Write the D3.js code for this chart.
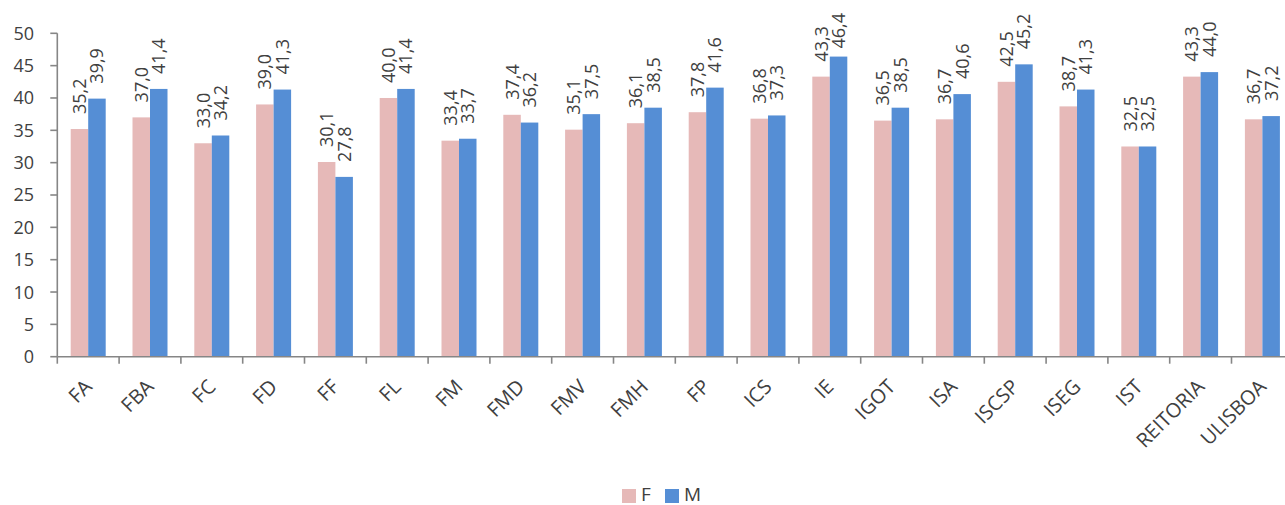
<!DOCTYPE html>
<html><head><meta charset="utf-8">
<script src="https://cdn.jsdelivr.net/npm/d3@7"></script>
<style>body{margin:0;background:#fff}svg{display:block}</style>
</head><body><svg id="c" width="1285" height="505"></svg>
<script>
const categories = ["FA","FBA","FC","FD","FF","FL","FM","FMD","FMV","FMH","FP","ICS","IE","IGOT","ISA","ISCSP","ISEG","IST","REITORIA","ULISBOA"];
const seriesF = [35.2,37.0,33.0,39.0,30.1,40.0,33.4,37.4,35.1,36.1,37.8,36.8,43.3,36.5,36.7,42.5,38.7,32.5,43.3,36.7];
const seriesM = [39.9,41.4,34.2,41.3,27.8,41.4,33.7,36.2,37.5,38.5,41.6,37.3,46.4,38.5,40.6,45.2,41.3,32.5,44.0,37.2];
const yTicks = [0,5,10,15,20,25,30,35,40,45,50];
const seriesNames = ["F","M"];
const colors = ["#E6B9B8","#558ED5"];

(function(){
const svg = d3.select("#c");
const font = "'Open Sans', sans-serif";
const textColor = "#404040";
const axisColor = "#868686";
const plotLeft = 57.3, plotBottom = 356.7, plotTop = 33.3;
const bandW = 61.8;
const x = d3.scaleBand().domain(categories).range([plotLeft, plotLeft + bandW*categories.length]).paddingInner(0).paddingOuter(0);
const y = d3.scaleLinear().domain([0,50]).range([plotBottom, plotTop]);
const barW = 17.5;
const labelGap = 15, labelMinTop = 13;
const data = seriesNames.map((s,i)=>({name:s, color:colors[i], values: i===0?seriesF:seriesM}));

data.forEach((s,si)=>{
  const g = svg.append("g");
  categories.forEach((c,ci)=>{
    const cx = x(c) + x.bandwidth()/2;
    const bx = cx - barW + si*barW;
    const v = s.values[ci];
    g.append("rect").attr("x", bx).attr("y", y(v)).attr("width", barW).attr("height", y(0)-y(v)).attr("fill", s.color);
    const t = g.append("text")
      .attr("dy","0.36em").attr("text-anchor","start")
      .attr("font-family", font).attr("font-size", 18).attr("fill", textColor)
      .text(v.toFixed(1).replace(".", ","));
    const len = t.node().getComputedTextLength();
    let start = y(v) - labelGap;
    if (start - len < labelMinTop) start = labelMinTop + len;
    t.attr("transform", `translate(${bx+barW/2},${start}) rotate(-90)`);
  });
});

const ya = svg.append("g");
ya.append("line").attr("x1", plotLeft).attr("x2", plotLeft).attr("y1", plotTop).attr("y2", plotBottom).attr("stroke", axisColor).attr("stroke-width",1.6);
yTicks.forEach(t=>{
  ya.append("line").attr("x1", plotLeft-7).attr("x2", plotLeft).attr("y1", y(t)).attr("y2", y(t)).attr("stroke", axisColor).attr("stroke-width",1.6);
  ya.append("text").attr("x", 34).attr("y", y(t)).attr("dy","0.36em").attr("text-anchor","end")
    .attr("font-family", font).attr("font-size", 18).attr("fill", textColor).text(t);
});

const xa = svg.append("g");
const xEnd = plotLeft + bandW*categories.length;
xa.append("line").attr("x1", plotLeft).attr("x2", xEnd).attr("y1", plotBottom).attr("y2", plotBottom).attr("stroke", axisColor).attr("stroke-width",1.6);
categories.forEach(c=>{
  const tx = x(c);
  xa.append("line").attr("x1", tx).attr("x2", tx).attr("y1", plotBottom).attr("y2", plotBottom+7).attr("stroke", axisColor).attr("stroke-width",1.6);
});
categories.forEach(c=>{
  const cx = x(c) + x.bandwidth()/2;
  xa.append("text").attr("transform", `translate(${cx+5},388) rotate(-45)`)
    .attr("text-anchor","end")
    .attr("font-family", font).attr("font-size", 20).attr("fill", textColor).text(c);
});

const lg = svg.append("g");
const legX = [622, 665];
data.forEach((s,i)=>{
  lg.append("rect").attr("x", legX[i]).attr("y", 489).attr("width", 14).attr("height", 14).attr("fill", s.color);
  lg.append("text").attr("x", legX[i]+19).attr("y", 500.5)
    .attr("font-family", font).attr("font-size", 19).attr("fill", textColor).text(s.name);
});
})();
</script></body></html>
